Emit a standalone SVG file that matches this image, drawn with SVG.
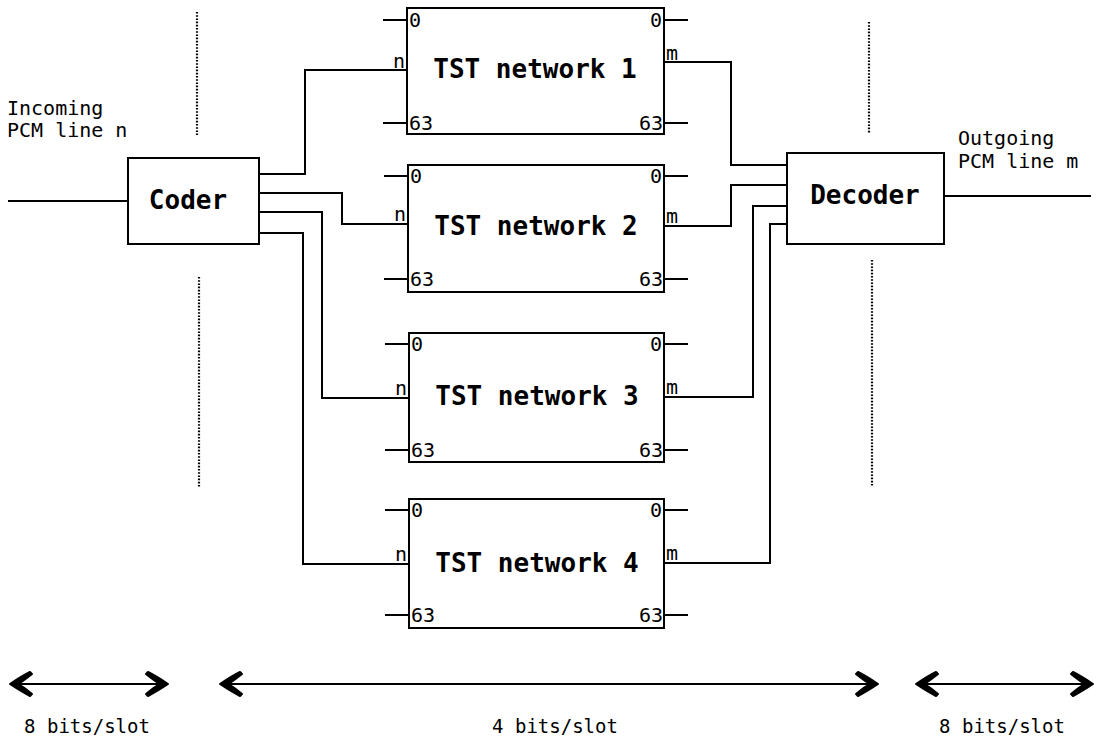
<svg xmlns="http://www.w3.org/2000/svg" width="1098" height="740" viewBox="0 0 1098 740">
<style>
.box{fill:#fff;stroke:#000;stroke-width:2}
.ln{fill:none;stroke:#000;stroke-width:2}
.dot{fill:none;stroke:#000;stroke-width:2.2;stroke-dasharray:1.6 1.6}
.big{font-family:"DejaVu Sans Mono","Liberation Mono",monospace;font-weight:bold;font-size:26px;fill:#000}
.sm{font-family:"DejaVu Sans Mono","Liberation Mono",monospace;font-size:20px;fill:#000}
.lab{font-family:"DejaVu Sans Mono","Liberation Mono",monospace;font-size:20px;fill:#000}
.bt{font-family:"DejaVu Sans Mono","Liberation Mono",monospace;font-size:19px;fill:#000}
</style>
<defs>
<marker id="ah" viewBox="-26 -14 28 28" refX="0" refY="0" markerWidth="28" markerHeight="28" markerUnits="userSpaceOnUse" orient="auto-start-reverse">
<path d="M0,0 C-6,-4 -14,-9 -20,-12 L-22,-10 C-17,-6 -12,-2 -8,0 C-12,2 -17,6 -22,10 L-20,12 C-14,9 -6,4 0,0 Z" fill="#000" stroke="#000" stroke-width="2" stroke-linejoin="round"/>
</marker>
</defs>
<rect width="1098" height="740" fill="#fff"/>

<g id="dividers">
<line class="dot" x1="197" y1="12" x2="197" y2="135"/>
<line class="dot" x1="199" y1="277" x2="199" y2="487"/>
<line class="dot" x1="869" y1="22" x2="869" y2="133"/>
<line class="dot" x1="872" y1="260" x2="872" y2="486"/>
</g>

<g id="connectors">
<path class="ln" d="M8,201 H128"/>
<path class="ln" d="M944,196 H1091"/>
<path class="ln" d="M259,174 H305 V70 H407"/>
<path class="ln" d="M259,193 H342 V224 H408"/>
<path class="ln" d="M259,212 H322 V398 H409"/>
<path class="ln" d="M259,233 H303 V564 H409"/>
<path class="ln" d="M664,62 H731 V165 H787"/>
<path class="ln" d="M664,226 H731 V185 H787"/>
<path class="ln" d="M664,397 H753 V206 H787"/>
<path class="ln" d="M664,563 H770 V224 H787"/>
</g>

<g id="coder">
<rect class="box" x="128" y="158" width="131" height="86"/>
<text class="big" x="188" y="209" text-anchor="middle">Coder</text>
</g>

<g id="decoder">
<rect class="box" x="787" y="153" width="157" height="91"/>
<text class="big" x="865" y="204" text-anchor="middle">Decoder</text>
</g>

<g id="incoming-label">
<text class="lab" x="7" y="115">Incoming</text>
<text class="lab" x="7" y="137">PCM line n</text>
</g>
<g id="outgoing-label">
<text class="lab" x="958" y="145">Outgoing</text>
<text class="lab" x="958" y="168">PCM line m</text>
</g>

<g id="tst1">
<rect class="box" x="407" y="8" width="257" height="126"/>
<path class="ln" d="M383,20 H407 M383,123 H407 M664,20 H688 M664,123 H688"/>
<text class="sm" x="409" y="27">0</text>
<text class="sm" x="409" y="130">63</text>
<text class="sm" x="662" y="27" text-anchor="end">0</text>
<text class="sm" x="663" y="130" text-anchor="end">63</text>
<text class="sm" x="405" y="68" text-anchor="end">n</text>
<text class="sm" x="666" y="60">m</text>
<text class="big" x="535" y="78" text-anchor="middle">TST network 1</text>
</g>

<g id="tst2">
<rect class="box" x="408" y="165" width="256" height="127"/>
<path class="ln" d="M384,176 H408 M384,279 H408 M664,176 H688 M664,279 H688"/>
<text class="sm" x="410" y="183">0</text>
<text class="sm" x="410" y="286">63</text>
<text class="sm" x="662" y="183" text-anchor="end">0</text>
<text class="sm" x="663" y="286" text-anchor="end">63</text>
<text class="sm" x="406" y="221" text-anchor="end">n</text>
<text class="sm" x="666" y="223">m</text>
<text class="big" x="536" y="235" text-anchor="middle">TST network 2</text>
</g>

<g id="tst3">
<rect class="box" x="409" y="333" width="255" height="129"/>
<path class="ln" d="M385,344 H409 M385,450 H409 M664,344 H688 M664,450 H688"/>
<text class="sm" x="411" y="351">0</text>
<text class="sm" x="411" y="457">63</text>
<text class="sm" x="662" y="351" text-anchor="end">0</text>
<text class="sm" x="663" y="457" text-anchor="end">63</text>
<text class="sm" x="407" y="395" text-anchor="end">n</text>
<text class="sm" x="666" y="394">m</text>
<text class="big" x="537" y="405" text-anchor="middle">TST network 3</text>
</g>

<g id="tst4">
<rect class="box" x="409" y="499" width="255" height="129"/>
<path class="ln" d="M385,510 H409 M385,615 H409 M664,510 H688 M664,615 H688"/>
<text class="sm" x="411" y="517">0</text>
<text class="sm" x="411" y="622">63</text>
<text class="sm" x="662" y="517" text-anchor="end">0</text>
<text class="sm" x="663" y="622" text-anchor="end">63</text>
<text class="sm" x="407" y="561" text-anchor="end">n</text>
<text class="sm" x="666" y="560">m</text>
<text class="big" x="537" y="572" text-anchor="middle">TST network 4</text>
</g>

<g id="scale-arrows">
<line class="ln" x1="10" y1="684" x2="168" y2="684" marker-start="url(#ah)" marker-end="url(#ah)"/>
<line class="ln" x1="220" y1="684" x2="878" y2="684" marker-start="url(#ah)" marker-end="url(#ah)"/>
<line class="ln" x1="916" y1="684" x2="1093" y2="684" marker-start="url(#ah)" marker-end="url(#ah)"/>
<text class="bt" x="87" y="733" text-anchor="middle">8 bits/slot</text>
<text class="bt" x="555" y="733" text-anchor="middle">4 bits/slot</text>
<text class="bt" x="1002" y="733" text-anchor="middle">8 bits/slot</text>
</g>
</svg>
